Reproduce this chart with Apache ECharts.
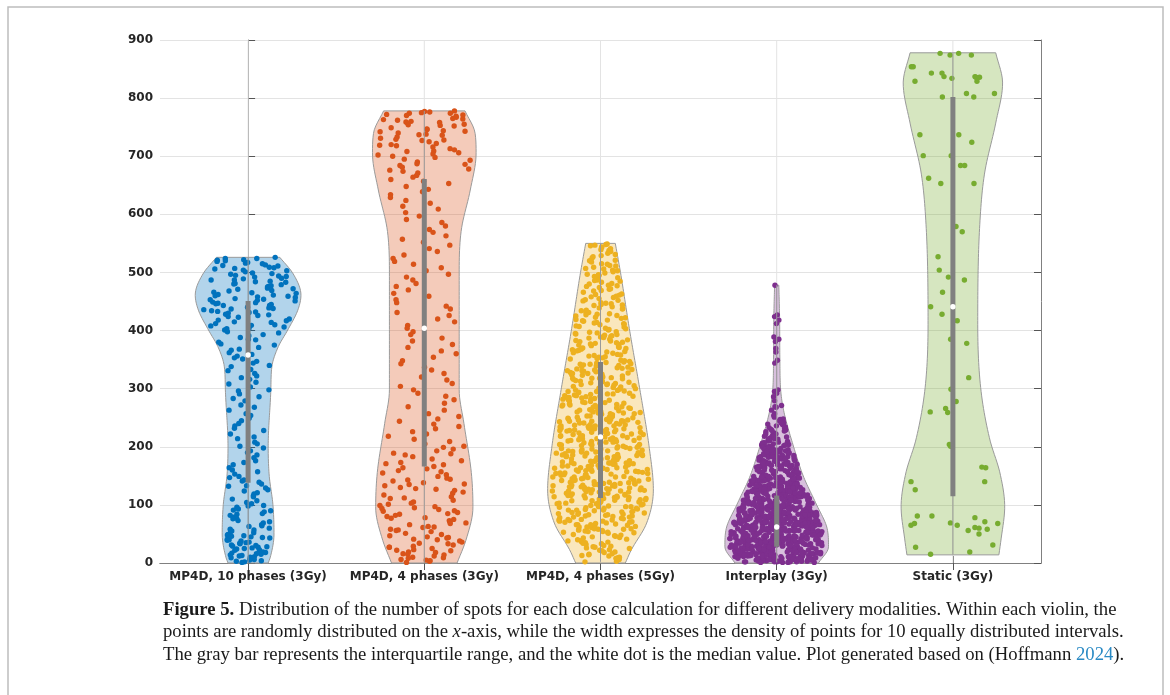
<!DOCTYPE html>
<html><head><meta charset="utf-8">
<script src="https://cdn.jsdelivr.net/npm/echarts@6/dist/echarts.min.js"></script>
<style>html,body{margin:0;padding:0;background:#fff}#c{width:1170px;height:695px}</style>
</head><body><div id="c"></div>
<script>
// ---------------- DATA ----------------
const categories = ['MP4D, 10 phases (3Gy)', 'MP4D, 4 phases (3Gy)', 'MP4D, 4 phases (5Gy)', 'Interplay (3Gy)', 'Static (3Gy)'];
const yMin = 0, yMax = 900, yStep = 100;
const colors = ['#0072BD', '#D95319', '#EDB120', '#7E2F8E', '#77AC30'];

// quartiles / medians
const q1Values = [138, 166, 112, 28, 115];
const medianValues = [358, 404, 217, 62, 441];
const q3Values = [451, 661, 346, 116, 802];

// violin density profiles (value levels, relative density 0..1)
const profY_10 = [0, 10, 50, 100, 150, 200, 298, 338, 372, 401, 435, 461, 498, 526];
const profW_10 = [0.38, 0.42, 0.49, 0.47, 0.40, 0.38, 0.43, 0.45, 0.57, 0.75, 0.94, 1.0, 0.85, 0.60];
const profY_4a = [0, 40, 96, 155, 240, 298, 499, 573, 642, 705, 740, 778];
const profW_4a = [0.62, 0.79, 0.92, 0.89, 0.75, 0.66, 0.66, 0.70, 0.87, 0.98, 0.96, 0.77];
const profY_4b = [0, 22, 68, 126, 200, 301, 401, 499, 550];
const profW_4b = [0.47, 0.58, 0.87, 1.0, 0.92, 0.74, 0.55, 0.38, 0.28];
const profY_ip = [0, 28, 57, 103, 148, 200, 263, 298, 350, 420, 478];
const profW_ip = [0.79, 0.98, 0.96, 0.74, 0.51, 0.32, 0.13, 0.075, 0.06, 0.055, 0.04];
const profY_st = [14, 40, 97, 155, 212, 298, 413, 585, 671, 757, 826, 878];
const profW_st = [0.87, 0.91, 0.98, 0.89, 0.70, 0.53, 0.47, 0.51, 0.60, 0.81, 0.94, 0.81];

// individual points (number of spots)
const pts10 = [526,524,524,521,520,519,516,515,512,511,508,507,504,503,501,499,498,495,494,493,490,489,487,487,485,483,481,480,479,476,475,473,472,469,468,466,465,462,461,460,458,457,455,454,452,451,449,448,446,445,443,443,441,440,438,437,436,434,433,431,430,428,427,424,423,420,418,417,414,412,410,408,406,404,403,401,398,396,393,391,388,385,384,380,377,375,371,368,366,362,359,356,353,351,347,344,340,338,333,331,326,322,319,316,311,308,303,298,296,291,286,283,279,272,268,263,257,254,249,245,240,236,232,228,222,217,214,208,205,201,198,193,190,186,181,176,173,169,164,160,157,153,149,147,143,141,139,136,133,132,129,126,124,121,119,116,114,110,107,104,102,99,98,96,93,91,90,88,85,84,82,79,77,76,73,71,69,66,64,63,60,58,55,54,52,49,48,46,45,43,41,40,38,36,35,33,31,30,28,27,25,24,22,21,19,18,17,15,14,12,11,10,8,7,6,5,3,2,1,522,517,513,509,506,497,492,484,477,471,464,459,453,447,439,432,426,415,409,57,47,39,29,23,16,9,4,13,26,34,44];
const pts4a = [778,777,776,774,774,772,770,769,767,765,764,762,760,759,757,755,753,752,749,747,746,743,742,740,737,736,733,731,729,727,725,722,720,718,716,713,711,709,706,704,702,698,695,693,690,687,684,681,678,674,671,667,664,660,657,653,648,643,639,634,629,624,619,614,609,603,597,591,586,580,574,569,563,557,552,547,541,536,530,524,519,514,508,503,497,492,487,481,476,470,464,459,453,448,442,437,431,426,420,415,409,404,398,393,387,382,376,371,365,360,354,348,343,337,332,326,320,315,309,304,298,292,287,281,275,269,263,257,252,248,244,239,235,231,226,222,218,213,209,205,201,199,196,193,189,186,183,179,176,173,169,166,162,159,155,152,149,146,144,141,138,136,133,130,127,125,122,120,117,114,111,108,105,103,99,97,94,92,90,87,85,82,80,78,75,73,71,68,66,63,61,58,56,54,51,49,47,45,43,40,38,36,34,31,29,27,25,23,21,19,16,14,12,10,8,6,4,3,1,775,771,763,758,754,744,738,728,719,708,700,686,676,27,18,9,5,33,44,57,69,84,95,112,128,143,157,171,188,22,15,41,62,77,89,101,135,164];
const pts4b = [512,547,503,529,538,518,506,544,521,533,509,549,515,541,525,501,536,548,511,527,543,507,520,531,546,514,539,504,
468,491,457,483,474,499,462,487,452,478,495,466,481,459,489,471,455,497,476,463,485,451,493,469,458,480,472,496,461,486,453,477,
431,412,447,404,425,438,416,443,408,421,434,401,428,445,414,437,419,406,441,423,410,448,432,417,403,426,439,411,444,422,407,435,418,429,402,446,413,427,
372,389,356,381,364,397,351,376,392,368,385,359,379,394,362,383,353,374,398,366,387,358,377,391,361,370,395,354,380,367,388,357,375,393,363,384,352,371,396,365,378,390,355,382,369,
327,314,341,305,336,319,348,309,331,322,344,302,317,338,325,311,346,307,333,320,340,304,329,313,349,316,335,301,324,343,310,337,318,347,306,330,321,342,303,328,315,339,308,334,323,345,312,326,300,332,318,341,
271,258,289,264,296,252,280,267,293,255,276,285,261,298,273,251,283,268,291,257,279,265,287,254,294,270,260,282,297,263,275,288,253,269,292,259,278,266,286,256,299,272,262,284,250,277,290,267,258,295,274,281,263,288,253,270,285,260,
218,237,204,229,246,211,224,241,207,233,215,249,202,226,239,213,221,244,209,231,217,247,205,236,223,212,242,228,201,234,219,245,208,230,214,240,225,203,248,216,232,210,238,222,206,243,227,214,235,200,219,246,209,231,225,241,212,236,204,228,217,244,221,233,
176,158,192,164,185,151,172,197,161,188,167,179,154,195,170,183,157,190,163,175,199,152,181,168,193,159,186,173,155,196,166,178,162,189,171,153,184,177,198,160,191,165,180,156,187,174,150,194,169,182,158,176,163,191,185,154,172,197,167,179,161,188,152,175,183,193,170,157,186,164,
126,109,142,118,135,103,131,147,114,123,138,106,129,145,111,120,133,101,127,149,116,139,108,124,136,113,144,102,130,119,141,107,125,134,112,148,117,128,104,137,121,143,110,132,100,139,115,126,146,105,122,134,118,140,109,129,113,145,103,131,120,137,107,124,148,116,133,111,127,142,102,135,
78,63,91,55,84,70,97,59,75,88,52,81,66,94,72,57,86,69,99,61,77,90,54,83,67,95,73,58,87,64,80,51,92,71,98,56,85,68,76,93,60,82,65,96,74,53,89,79,62,86,70,57,94,75,66,91,53,81,72,97,59,84,
23,41,12,35,6,29,47,18,38,3,26,44,15,32,9,49,21,37,13,28,45,5,33,19,40,10,25,48,16,36,2,30,43,8,22,39,14,46,27,34,
143,118,172,196,127,161,184,105,152,137,189,113,168,146,199,122,175,131,158,109,181,148,193,116,164,135,187,124,155,171,
211,238,224,203,247,219,232,208,243,227,215,236,201,229,244,263,287,251,276,295,268,282,257,291,272,74,91,58,83,66,97,62,88,79,54,318,342,307,331,326];
const ptsIp = [478,427,424,418,412,389,385,381,369,363,349,344,295,292,269,268,
298,286,279,271,263,257,254,251,
247,243,239,236,232,229,226,224,221,219,216,214,212,210,208,206,205,203,201,248,241,234,227,222,217,213,209,204,202,244,230,218,211,207,200,
233,214,245,222,206,238,217,228,203,241,
199,197,196,194,193,191,190,188,187,185,184,182,181,179,178,176,175,173,172,170,169,167,166,164,163,161,160,158,157,155,154,152,151,198,195,192,189,186,183,180,177,174,171,168,165,162,159,156,153,150,199,196,193,190,186,183,180,176,173,170,166,163,160,157,154,151,197,191,185,179,174,168,162,156,152,188,171,159,184,167,
163,187,155,176,192,168,181,158,197,172,160,185,151,178,194,166,183,157,189,170,
137,112,144,105,128,119,133,101,147,124,109,138,116,130,103,141,122,108,135,114,149,126,106,131,118,143,110,127,139,102,121,134,115,146,107,125,136,111,142,120,104,132,117,145,129,113,140,123,100,136,
118,131,107,144,125,112,139,103,128,121,148,110,134,116,142,105,127,137,114,101,130,122,146,108,119,133,126,141,111,104,138,124,115,129,147,106,135,120,143,113,
102,132,117,140,109,127,145,123,136,114,104,130,119,142,111,134,125,107,148,121,138,116,103,131,128,144,110,137,122,106,
113,138,104,127,146,119,132,108,141,123,101,135,116,149,128,110,143,121,106,131,139,114,125,147,102,134,118,129,144,109,137,122,105,142,126,115,148,111,133,120,
78,63,91,55,84,70,97,59,75,88,52,81,66,94,72,57,86,69,99,61,77,90,54,83,67,95,73,58,87,64,80,51,92,71,98,56,85,68,76,93,60,82,65,96,74,53,89,79,62,86,
70,57,94,75,66,91,53,81,72,97,59,84,63,88,76,51,93,68,80,55,99,73,61,86,70,95,58,83,65,90,77,52,87,64,96,71,56,82,67,92,79,60,98,74,54,85,69,89,62,78,
94,57,81,66,91,73,53,86,61,97,76,69,84,58,92,64,79,51,88,71,95,55,83,67,75,99,60,87,72,52,90,65,80,56,93,70,62,85,77,96,54,82,68,89,59,74,98,63,86,73,
81,57,93,66,78,52,88,70,61,95,75,84,58,91,67,79,53,97,72,64,87,56,83,69,90,
64,87,52,76,93,58,81,69,97,55,72,89,61,84,67,95,53,78,91,63,74,86,57,99,70,82,60,92,66,79,51,88,73,96,56,83,68,94,62,77,85,54,90,71,98,59,80,65,87,75,52,93,69,84,58,96,72,61,89,77,55,81,66,94,70,86,63,91,57,79,98,67,83,54,74,88,60,95,73,85,
23,41,12,35,6,29,47,18,38,3,26,44,15,32,9,49,21,37,13,28,45,5,33,19,40,10,25,48,16,36,2,30,43,8,22,39,14,46,27,34,1,20,42,11,31,7,24,45,17,38,
4,29,36,13,47,22,9,40,18,33,2,26,44,15,31,6,37,20,48,11,28,42,3,24,35,16,49,8,30,41,19,27,5,39,14,46,21,34,10,43,1,25,32,17,38,7,45,23,12,36,
28,4,41,19,33,9,47,15,26,38,2,22,44,11,31,6,35,18,49,13,29,40,3,24,37,16,46,8,27,42,20,5,34,12,39,25,1,30,45,14,21,36,7,43,17,32,10,48,26,3,
19,37,8,28,44,13,23,40,5,31,16,47,11,34,22,2,38,27,14,42,6,33,18,46,25,
17,33,4,45,26,11,39,22,48,7,30,14,42,25,2,36,19,46,9,28,40,15,34,6,44,21,12,37,29,3,47,18,31,10,41,24,8,35,20,49,13,27,43,5,38,16,32,1,46,23,11,39,26,7,44,18,30,14,36,3,48,21,9,33,25,42,6,29,16,40,12,35,2,45,20,28,8,37,24,47];
const ptsSt = [877,877,874,874,854,854,843,837,834,836,829,837,843,836,829,808,802,802,808,
737,737,724,701,701,684,684,662,653,653,
579,570,527,504,492,487,466,441,428,417,417,385,378,319,299,278,266,260,259,204,201,164,165,140,140,126,
81,65,68,68,71,65,81,69,78,58,60,61,56,50,31,27,19,15];

// ---------------- RENDER ----------------
const allPts = [pts10, pts4a, pts4b, ptsIp, ptsSt];
const profY = [profY_10, profY_4a, profY_4b, profY_ip, profY_st];
const profW = [profW_10, profW_4a, profW_4b, profW_ip, profW_st];
const MAXHALF = 0.30;

function makeProfile(Y, W) {
  const n = Y.length, d = [], m = new Array(n);
  for (let i = 0; i < n - 1; i++) d.push((W[i + 1] - W[i]) / (Y[i + 1] - Y[i]));
  m[0] = d[0]; m[n - 1] = d[n - 2];
  for (let i = 1; i < n - 1; i++) m[i] = (d[i - 1] * d[i] <= 0) ? 0 : (d[i - 1] + d[i]) / 2;
  for (let i = 0; i < n - 1; i++) {
    if (d[i] === 0) { m[i] = 0; m[i + 1] = 0; continue; }
    const a = m[i] / d[i], b = m[i + 1] / d[i], s = a * a + b * b;
    if (s > 9) { const t = 3 / Math.sqrt(s); m[i] = t * a * d[i]; m[i + 1] = t * b * d[i]; }
  }
  return function (y) {
    if (y <= Y[0]) return W[0];
    if (y >= Y[n - 1]) return W[n - 1];
    let i = 0; while (y > Y[i + 1]) i++;
    const h = Y[i + 1] - Y[i], t = (y - Y[i]) / h, t2 = t * t, t3 = t2 * t;
    return (2 * t3 - 3 * t2 + 1) * W[i] + (t3 - 2 * t2 + t) * h * m[i] + (-2 * t3 + 3 * t2) * W[i + 1] + (t3 - t2) * h * m[i + 1];
  };
}
const profFns = profY.map((Y, k) => makeProfile(Y, profW[k]));

function jit(i, k) { const s = Math.sin(i * 127.1 + k * 311.7 + 0.5) * 43758.5453; return s - Math.floor(s); }
function hexA(hex, a) {
  const r = parseInt(hex.slice(1, 3), 16), g = parseInt(hex.slice(3, 5), 16), b = parseInt(hex.slice(5, 7), 16);
  return 'rgba(' + r + ',' + g + ',' + b + ',' + a + ')';
}

const series = [];
// violin bodies + vertical grid lines
series.push({
  type: 'custom', xAxisIndex: 2, yAxisIndex: 0, z: 1, silent: true, animation: false,
  data: categories.map((c, i) => [i]),
  renderItem: function (params, api) {
    const k = params.dataIndex;
    const cs = params.coordSys;
    const cx = api.coord([k, 0])[0];
    const Y = profY[k], f = profFns[k];
    const lo = Y[0], hi = Y[Y.length - 1];
    const N = 120, right = [], left = [];
    for (let j = 0; j <= N; j++) {
      const y = lo + (hi - lo) * j / N;
      const w = f(y) * MAXHALF;
      right.push(api.coord([k + w, y]));
      left.push(api.coord([k - w, y]));
    }
    const pts = right.concat(left.reverse());
    return {
      type: 'group', children: [
        { type: 'line', shape: { x1: cx, y1: cs.y, x2: cx, y2: cs.y + cs.height }, style: { stroke: '#e3e3e3', lineWidth: 1 } },
        { type: 'polygon', shape: { points: pts }, style: { fill: hexA(colors[k], 0.3), stroke: '#9a9a9a', lineWidth: 1 } }
      ]
    };
  }
});
// points
allPts.forEach((arr, k) => {
  series.push({
    type: 'scatter', xAxisIndex: 2, yAxisIndex: 0, z: 2, silent: true, animation: false,
    symbol: 'circle', symbolSize: 5.4,
    itemStyle: { color: colors[k], opacity: 1 },
    data: arr.map((y, i) => [k + (2 * jit(i, k) - 1) * profFns[k](y) * MAXHALF * 0.92, y])
  });
});
// whiskers, IQR bars, medians
series.push({
  type: 'custom', xAxisIndex: 2, yAxisIndex: 0, z: 3, silent: true, animation: false,
  data: categories.map((c, i) => [i]),
  renderItem: function (params, api) {
    const k = params.dataIndex;
    const arr = allPts[k];
    const mn = Math.min.apply(null, arr), mx = Math.max.apply(null, arr);
    const pMin = api.coord([k, mn]), pMax = api.coord([k, mx]);
    const pQ1 = api.coord([k, q1Values[k]]), pQ3 = api.coord([k, q3Values[k]]);
    const pMed = api.coord([k, medianValues[k]]);
    return {
      type: 'group', children: [
        { type: 'line', shape: { x1: pMin[0], y1: pMin[1], x2: pMax[0], y2: pMax[1] }, style: { stroke: '#9a9a9a', lineWidth: 1 } },
        { type: 'rect', shape: { x: pQ1[0] - 2.5, y: pQ3[1], width: 5, height: pQ1[1] - pQ3[1] }, style: { fill: '#808080' } },
        { type: 'circle', shape: { cx: pMed[0], cy: pMed[1], r: 2.7 }, style: { fill: '#ffffff' } }
      ]
    };
  }
});

const axisLineStyle = { color: '#808080', width: 1 };
const tickStyle = { color: '#555555', width: 1 };
const serif = "'Liberation Serif', 'DejaVu Serif', serif";
const capSize = 18.7;
const capBase = { fontFamily: serif, fontSize: capSize, fill: '#1a1a1a', color: '#1a1a1a' };

const option = {
  animation: false,
  backgroundColor: '#ffffff',
  grid: { left: 160, right: 129, top: 40, bottom: 132, containLabel: false },
  xAxis: [
    {
      type: 'category', data: categories, position: 'bottom', boundaryGap: true,
      axisLine: { show: true, lineStyle: axisLineStyle },
      axisTick: { show: true, inside: true, alignWithLabel: true, length: 7, lineStyle: tickStyle },
      axisLabel: { show: true, color: '#262626', fontWeight: 'bold', fontSize: 12, fontFamily: 'DejaVu Sans', margin: 8, interval: 0 },
      splitLine: { show: false }
    },
    {
      type: 'category', data: categories, position: 'top', boundaryGap: true,
      axisLine: { show: true, lineStyle: axisLineStyle },
      axisTick: { show: true, inside: true, alignWithLabel: true, length: 7, lineStyle: tickStyle },
      axisLabel: { show: false }, splitLine: { show: false }
    },
    { type: 'value', min: -0.5, max: 4.5, show: false, splitLine: { show: false } }
  ],
  yAxis: [
    {
      type: 'value', min: yMin, max: yMax, interval: yStep, position: 'left',
      axisLine: { show: true, lineStyle: axisLineStyle },
      axisTick: { show: true, inside: true, length: 7, lineStyle: tickStyle },
      axisLabel: { color: '#262626', fontWeight: 'bold', fontSize: 12, fontFamily: 'DejaVu Sans', margin: 7 },
      splitLine: { show: true, lineStyle: { color: '#e3e3e3', width: 1 } }
    },
    {
      type: 'value', min: yMin, max: yMax, interval: yStep, position: 'right',
      axisLine: { show: true, lineStyle: axisLineStyle },
      axisTick: { show: true, inside: true, length: 7, lineStyle: tickStyle },
      axisLabel: { show: false }, splitLine: { show: false }
    }
  ],
  graphic: [
    { type: 'rect', silent: true, shape: { x: 8, y: 7, width: 1155, height: 740 }, style: { fill: 'none', stroke: '#bdbdbd', lineWidth: 1.5 } },
    {
      type: 'text', x: 163, y: 610, silent: true,
      style: {
        text: '{b|Figure 5.}{n| Distribution of the number of spots for each dose calculation for different delivery modalities. Within each violin, the}',
        verticalAlign: 'middle',
        rich: { b: Object.assign({}, capBase, { fontWeight: 'bold' }), n: capBase }
      }
    },
    {
      type: 'text', x: 163, y: 632, silent: true,
      style: {
        text: '{n|points are randomly distributed on the }{i|x}{n|-axis, while the width expresses the density of points for 10 equally distributed intervals.}',
        verticalAlign: 'middle',
        rich: { n: capBase, i: Object.assign({}, capBase, { fontStyle: 'italic' }) }
      }
    },
    {
      type: 'text', x: 163, y: 655, silent: true,
      style: {
        text: '{n|The gray bar represents the interquartile range, and the white dot is the median value. Plot generated based on (Hoffmann }{l|2024}{n|).}',
        verticalAlign: 'middle',
        rich: { n: capBase, l: Object.assign({}, capBase, { fill: '#2a8ac4', color: '#2a8ac4' }) }
      }
    }
  ],
  series: series
};

const chart = echarts.init(document.getElementById('c'), null, { renderer: 'canvas' });
chart.setOption(option);
</script>
</body></html>
